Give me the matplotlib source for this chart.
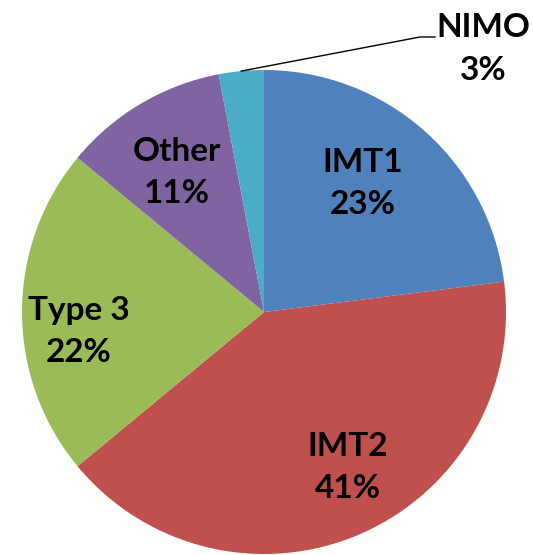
import numpy as np
import matplotlib.pyplot as plt

# Anteile der Kategorien
labels = ['IMT1', 'IMT2', 'Type 3', 'Other', 'NIMO']
shares = [23, 41, 22, 11, 3]
colors = ['#4F81BD', '#C0504D', '#9BBB59', '#8064A2', '#4BACC6']
# Lage der Beschriftung: Anteil vom Radius und Winkelverschiebung
label_dist = [0.67, 0.73, 0.77, 0.68, None]
label_shift = [4, 5, 6, 1.5, 0]

W, H = 533, 555
fig = plt.figure(figsize=(W / 100, H / 100), dpi=100)
ax = fig.add_axes([0, 0, 1, 1])

cx, cy, R = 264, H - 312, 242
wedges, _ = ax.pie(shares, colors=colors, startangle=90, counterclock=False,
                   center=(cx, cy), radius=R, frame=True,
                   wedgeprops=dict(linewidth=0))
ax.set_xlim(0, W)
ax.set_ylim(0, H)
ax.set_aspect('equal')
ax.axis('off')

font = dict(family='Lato', fontweight='bold', fontsize=24, color='black')

for w, lab, s, d, sh in zip(wedges, labels, shares, label_dist, label_shift):
    mid = np.deg2rad((w.theta1 + w.theta2) / 2 + sh)
    txt = lab + '\n' + str(s) + '%'
    if d is not None:
        x = cx + d * R * np.cos(mid)
        y = cy + d * R * np.sin(mid)
        ax.text(x, y, txt, ha='center', va='center', linespacing=1.55, **font)
    else:
        # kleine Scheibe: Beschriftung aussen mit Fuehrungslinie
        x0 = cx + R * np.cos(mid)
        y0 = cy + R * np.sin(mid)
        ax.plot([x0, 420, 435], [y0, H - 37, H - 37], color='black', lw=1.0)
        ax.text(483, H - 49, txt, ha='center', va='center', linespacing=1.55, **font)

fig.savefig('out.png', dpi=100)
